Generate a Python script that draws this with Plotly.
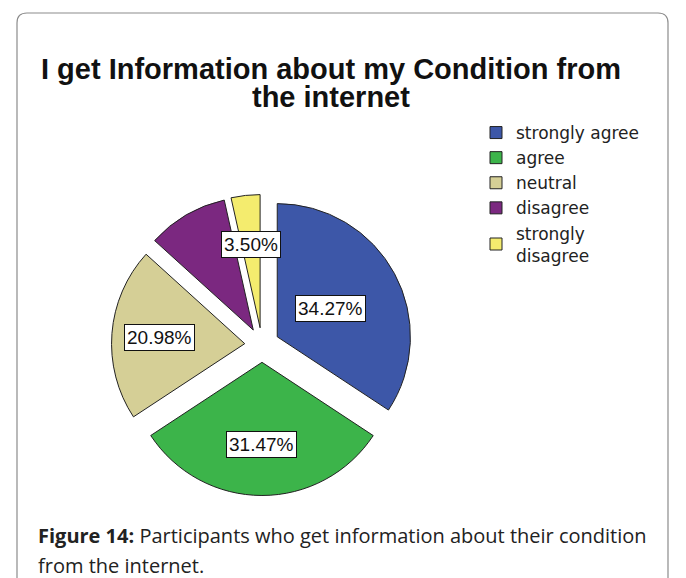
import math
import plotly.graph_objects as go

# ---- data ----
categories = ["strongly agree", "agree", "neutral", "disagree", "strongly disagree"]
legend_labels = ["strongly agree", "agree", "neutral", "disagree", "strongly<br>disagree"]
percentages = [34.27, 31.47, 20.98, 9.78, 3.50]
show_label = [True, True, True, False, True]

# ---- style ----
colors = ["#3D57A8", "#3CB44A", "#D5CF96", "#7B2880", "#F4EC6E"]
pull_amt = 0.13
label_radius = [0.45, 0.62, 0.64, 0.63, 0.63]  # fraction of pie radius

# page is offset by the default 8px body margin
OFF = 8
FW, FH = 686 - OFF, 578 - OFF


def fx(px):
    return (px - OFF) / FW


def fy(py):
    return 1 - (py - OFF) / FH


# pie box in page pixels
box_x = (111.5, 412.5)
box_y = (194.5, 495.5)

fig = go.Figure()
fig.add_trace(go.Pie(
    labels=legend_labels,
    values=percentages,
    sort=False,
    direction="clockwise",
    rotation=0,
    pull=[pull_amt] * len(percentages),
    marker=dict(colors=colors, line=dict(color="#222222", width=1)),
    textinfo="none",
    hoverinfo="label+value",
    domain=dict(x=[fx(box_x[0]), fx(box_x[1])], y=[fy(box_y[1]), fy(box_y[0])]),
))

cx_px = (box_x[0] + box_x[1]) / 2
cy_px = (box_y[0] + box_y[1]) / 2
r_px = min(box_x[1] - box_x[0], box_y[1] - box_y[0]) / 2 / (1 + pull_amt)

annotations = []
total = sum(percentages)
cum = 0.0
for v, show, lr in zip(percentages, show_label, label_radius):
    mid = (cum + v / 2) / total * 2 * math.pi
    cum += v
    if not show:
        continue
    px = cx_px + math.sin(mid) * r_px * (lr + pull_amt)
    py = cy_px - math.cos(mid) * r_px * (lr + pull_amt)
    annotations.append(dict(
        x=fx(px), y=fy(py), xref="paper", yref="paper",
        xanchor="center", yanchor="middle",
        text=f"{v:.2f}%", showarrow=False,
        font=dict(family="Liberation Sans, Arial", size=19, color="#111111"),
        bgcolor="white", bordercolor="#111111", borderwidth=1, borderpad=2,
    ))

# title (two lines, tight spacing)
title_lines = ["I get Information about my Condition from", "the internet"]
for txt, yy in zip(title_lines, [69, 97]):
    annotations.append(dict(
        x=fx(331), y=fy(yy), xref="paper", yref="paper", xanchor="center", yanchor="middle",
        text=f"<b>{txt}</b>", showarrow=False,
        font=dict(family="Liberation Sans, Arial", size=29, color="#111111"),
    ))

# caption
caption_lines = ["<b>Figure 14:</b> Participants who get information about their condition",
                 "from the internet."]
for txt, yy in zip(caption_lines, [535, 565]):
    annotations.append(dict(
        x=fx(36), y=fy(yy), xref="paper", yref="paper", xanchor="left", yanchor="middle",
        align="left", text=txt, showarrow=False,
        font=dict(family="Open Sans", size=20, color="#222222"),
    ))


# rounded border frame
def P(x, y):
    return f"{fx(x):.5f},{fy(y):.5f}"


L, T, R, B, rr = 17, 13, 668, 610, 10
path = (f"M {P(L, B)} L {P(L, T + rr)} Q {P(L, T)} {P(L + rr, T)} "
        f"L {P(R - rr, T)} Q {P(R, T)} {P(R, T + rr)} L {P(R, B)}")

fig.update_layout(
    width=FW, height=FH,
    margin=dict(l=0, r=0, t=0, b=0),
    paper_bgcolor="white", plot_bgcolor="white",
    showlegend=True,
    legend=dict(
        x=fx(476), y=fy(115), xanchor="left", yanchor="top",
        font=dict(family="DejaVu Sans", size=17, color="#222222"),
        itemwidth=30, tracegroupgap=0,
        bgcolor="rgba(0,0,0,0)",
    ),
    annotations=annotations,
    shapes=[dict(type="path", path=path, xref="paper", yref="paper",
                 line=dict(color="#8C8C8C", width=1.2))],
)

fig.write_html("out.html")
